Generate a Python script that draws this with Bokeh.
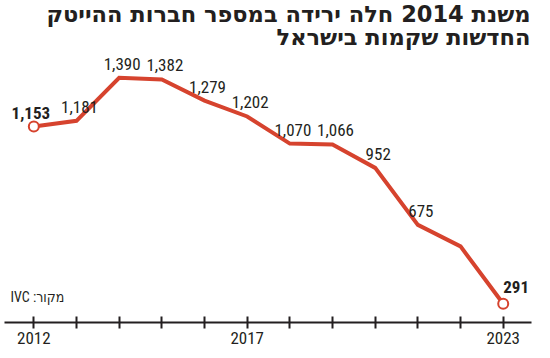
from bokeh.plotting import figure
from bokeh.models import FixedTicker, Label, LabelSet, Range1d, ColumnDataSource
from bokeh.core.properties import value
from bokeh.embed import file_html
from bokeh.resources import INLINE

# ---- data ----
years = [2012, 2013, 2014, 2015, 2016, 2017, 2018, 2019, 2020, 2021, 2022, 2023]
values = [1153, 1181, 1390, 1382, 1279, 1202, 1070, 1066, 952, 675, 570, 291]
point_labels = ["1,153", "1,181", "1,390", "1,382", "1,279", "1,202", "1,070",
                "1,066", "952", "675", "", "291"]
tick_years = years
tick_labels = {2012: "2012", 2017: "2017", 2023: "2023"}
title_lines = ["משנת 2014 חלה ירידה במספר חברות ההייטק", "החדשות שקמות בישראל"]
source_text = "IVC :מקור"

RED = "#d6432e"
INK = "#231f20"
NUM_FONT = "'Roboto Condensed', 'DejaVu Sans Condensed', sans-serif"
HEB_FONT = "'DejaVu Sans', sans-serif"

p = figure(width=550, height=346, output_backend="svg", toolbar_location=None,
           x_range=Range1d(2011.313, 2023.663), y_range=Range1d(200, 1766),
           min_border_left=4, min_border_right=19, min_border_top=0, min_border_bottom=20)
p.background_fill_color = "white"
p.border_fill_color = "white"
p.outline_line_color = None
p.grid.visible = False
p.yaxis.visible = False

src = ColumnDataSource(dict(x=years, y=values, t=point_labels))
p.line("x", "y", source=src, line_color=RED, line_width=4, line_join="miter")

mid = [i for i in range(1, len(years) - 1) if point_labels[i]]
mid_src = ColumnDataSource(dict(x=[years[i] for i in mid], y=[values[i] for i in mid],
                                t=[point_labels[i] for i in mid]))
p.add_layout(LabelSet(x="x", y="y", text="t", source=mid_src, text_align="center",
                      text_baseline="alphabetic", x_offset=3, y_offset=8,
                      text_font=value(NUM_FONT), text_font_size="17px", text_color=INK))

first_src = ColumnDataSource(dict(x=[years[0]], y=[values[0]], t=[point_labels[0]]))
p.add_layout(LabelSet(x="x", y="y", text="t", source=first_src, text_align="center",
                      text_baseline="alphabetic", x_offset=-3, y_offset=8,
                      text_font=value(NUM_FONT), text_font_size="17px",
                      text_font_style="bold", text_color=INK))
last_src = ColumnDataSource(dict(x=[years[-1]], y=[values[-1]], t=[point_labels[-1]]))
p.add_layout(LabelSet(x="x", y="y", text="t", source=last_src, text_align="left",
                      text_baseline="alphabetic", x_offset=0, y_offset=11,
                      text_font=value(NUM_FONT), text_font_size="17px",
                      text_font_style="bold", text_color=INK))

end_src = ColumnDataSource(dict(x=[years[0], years[-1]], y=[values[0], values[-1]]))
p.scatter("x", "y", source=end_src, size=10, fill_color="white", line_color=RED,
          line_width=2)

ax = p.xaxis[0]
ax.ticker = FixedTicker(ticks=tick_years, minor_ticks=[])
ax.major_label_overrides = {y: tick_labels.get(y, "") for y in tick_years}
ax.axis_line_color = INK
ax.axis_line_width = 2
ax.major_tick_line_color = INK
ax.major_tick_line_width = 2
ax.major_tick_in = 6
ax.major_tick_out = 6
ax.minor_tick_line_color = None
ax.major_label_standoff = 3
ax.major_label_text_font = NUM_FONT
ax.major_label_text_font_size = "17px"
ax.major_label_text_color = INK

p.add_layout(Label(x=526, y=296, x_units="screen", y_units="screen", text=title_lines[0],
                   text_align="right", text_font=HEB_FONT, text_font_style="bold",
                   text_font_size="22.5px", text_color=INK))
p.add_layout(Label(x=526, y=273, x_units="screen", y_units="screen", text=title_lines[1],
                   text_align="right", text_font=HEB_FONT, text_font_style="bold",
                   text_font_size="22.5px", text_color=INK))
p.add_layout(Label(x=6, y=18, x_units="screen", y_units="screen", text=source_text,
                   text_align="left", text_font=NUM_FONT, text_font_size="14px",
                   text_color=INK))

open("out.html", "w").write(file_html(p, INLINE))
